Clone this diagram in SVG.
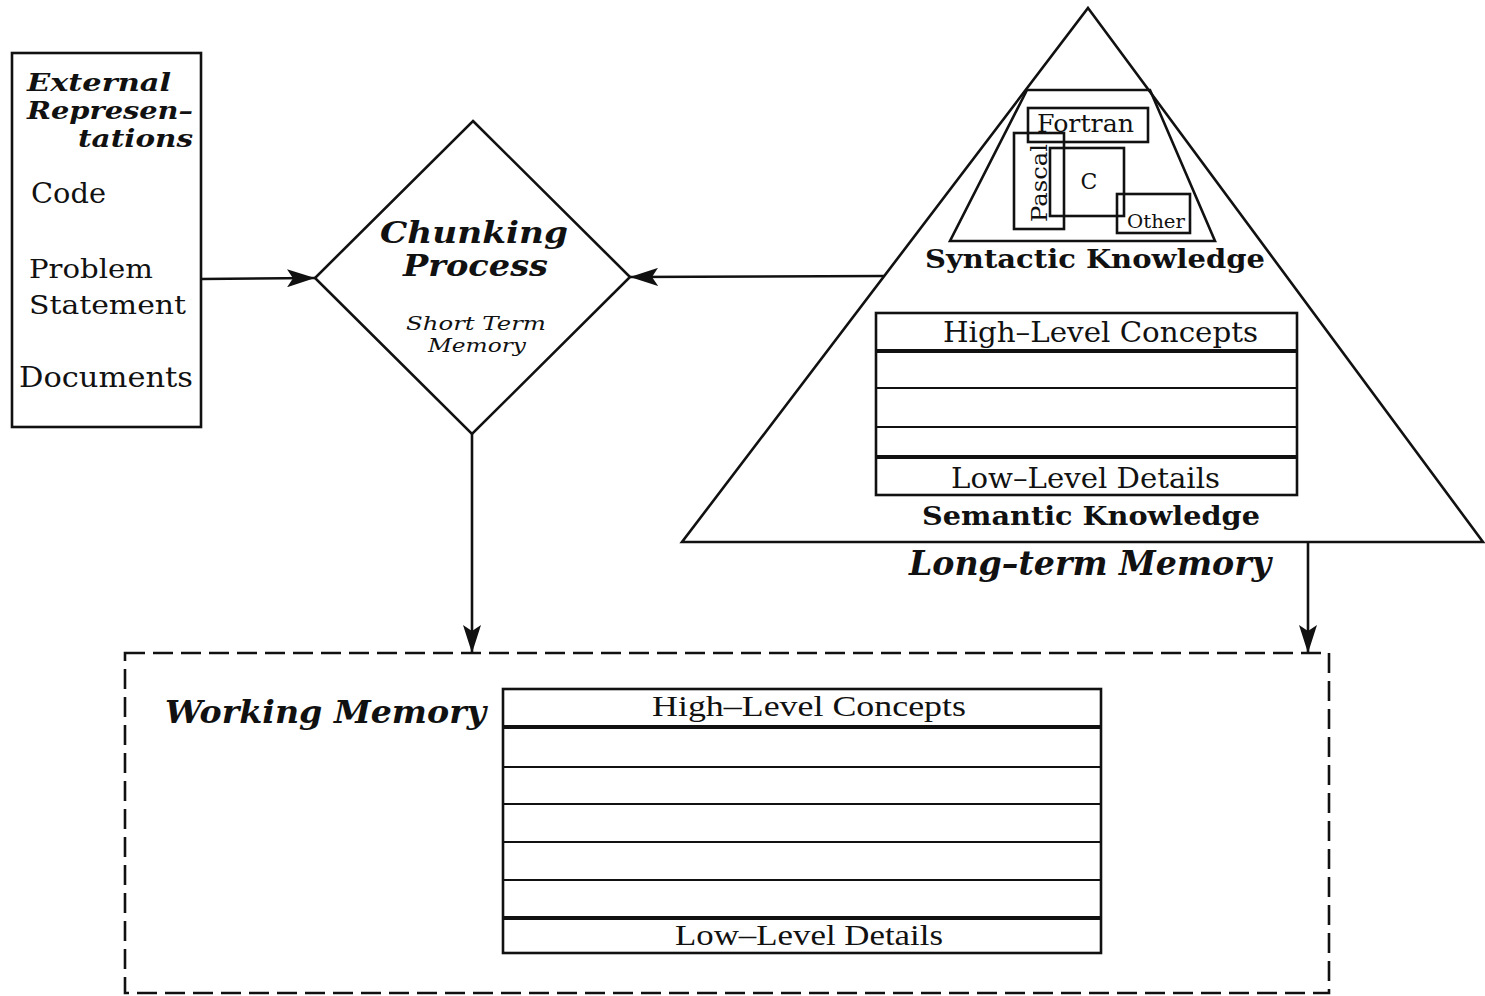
<svg xmlns="http://www.w3.org/2000/svg" width="1485" height="996" viewBox="0 0 1485 996">
  <style>
    .ln { fill: none; stroke: #111; stroke-width: 2.6; }
    .thin { fill: none; stroke: #111; stroke-width: 2; }
    .thick { fill: none; stroke: #111; stroke-width: 4; }
    .dash { fill: none; stroke: #111; stroke-width: 2.6; stroke-dasharray: 20 8; }
    .bi { font-family: "DejaVu Serif", serif; font-weight: bold; font-style: italic; fill: #111; }
    .b { font-family: "DejaVu Serif", serif; font-weight: bold; fill: #111; }
    .r { font-family: "Liberation Serif", serif; fill: #111; }
    .rd { font-family: "DejaVu Serif", serif; fill: #111; }
    .it { font-family: "DejaVu Serif", serif; font-style: italic; fill: #111; }
  </style>
  <defs>
    <marker id="head" viewBox="0 0 28 18" refX="28" refY="9" markerWidth="28" markerHeight="18" markerUnits="userSpaceOnUse" orient="auto">
      <path d="M0,0 L28,9 L0,18 L6,9 Z" fill="#111"/>
    </marker>
  </defs>
  <rect width="1485" height="996" fill="#fff"/>

  <!-- external representations -->
  <g id="external">
    <rect x="12" y="53" width="189" height="374" class="ln"/>
    <text class="bi" x="27" y="91" font-size="24" textLength="144" lengthAdjust="spacingAndGlyphs">External</text>
    <text class="bi" x="27" y="119" font-size="24" textLength="166" lengthAdjust="spacingAndGlyphs">Represen–</text>
    <text class="bi" x="78" y="147" font-size="24" textLength="115" lengthAdjust="spacingAndGlyphs">tations</text>
    <text class="rd" x="31" y="203" font-size="27" textLength="75" lengthAdjust="spacingAndGlyphs">Code</text>
    <text class="rd" x="29" y="278" font-size="26" textLength="124" lengthAdjust="spacingAndGlyphs">Problem</text>
    <text class="rd" x="29" y="314" font-size="26" textLength="157" lengthAdjust="spacingAndGlyphs">Statement</text>
    <text class="rd" x="19" y="387" font-size="27" textLength="174" lengthAdjust="spacingAndGlyphs">Documents</text>
  </g>

  <!-- chunking process -->
  <g id="chunking">
    <polygon points="473,121 630,277 472,434 315,278" class="ln"/>
    <text class="bi" x="380" y="243" font-size="29" textLength="188" lengthAdjust="spacingAndGlyphs">Chunking</text>
    <text class="bi" x="403" y="276" font-size="29" textLength="145" lengthAdjust="spacingAndGlyphs">Process</text>
    <text class="it" x="406" y="330" font-size="19" textLength="140" lengthAdjust="spacingAndGlyphs">Short Term</text>
    <text class="it" x="428" y="352" font-size="19" textLength="98" lengthAdjust="spacingAndGlyphs">Memory</text>
  </g>

  <!-- long-term memory -->
  <g id="long-term">
    <polygon points="1088,8 1483,542 682,542" class="ln"/>
    <g id="syntactic">
      <polygon points="1027,90 1150,90 1215,241 950,241" class="ln"/>
      <rect x="1028" y="108" width="120" height="34" class="ln"/>
      <rect x="1014" y="133" width="50" height="96" class="ln"/>
      <rect x="1050" y="148" width="74" height="68" class="ln"/>
      <rect x="1117" y="194" width="73" height="39" class="ln"/>
      <text class="rd" x="1037" y="132" font-size="24" textLength="97" lengthAdjust="spacingAndGlyphs">Fortran</text>
      <text class="rd" transform="translate(1047,222) rotate(-90)" font-size="23" textLength="78" lengthAdjust="spacingAndGlyphs">Pascal</text>
      <text class="rd" x="1089" y="189" font-size="22" text-anchor="middle">C</text>
      <text class="rd" x="1127" y="228" font-size="19" textLength="58" lengthAdjust="spacingAndGlyphs">Other</text>
      <text class="b" x="925" y="268" font-size="26" textLength="340" lengthAdjust="spacingAndGlyphs">Syntactic Knowledge</text>
    </g>
    <g id="semantic">
      <rect x="876" y="313" width="421" height="182" class="ln"/>
      <line x1="876" y1="351" x2="1297" y2="351" class="thick"/>
      <line x1="876" y1="388" x2="1297" y2="388" class="thin"/>
      <line x1="876" y1="427" x2="1297" y2="427" class="thin"/>
      <line x1="876" y1="457" x2="1297" y2="457" class="thick"/>
      <text class="rd" x="943" y="342" font-size="28" textLength="315" lengthAdjust="spacingAndGlyphs">High–Level Concepts</text>
      <text class="rd" x="951" y="488" font-size="28" textLength="269" lengthAdjust="spacingAndGlyphs">Low–Level Details</text>
      <text class="b" x="922" y="525" font-size="26" textLength="338" lengthAdjust="spacingAndGlyphs">Semantic Knowledge</text>
    </g>
    <text class="bi" x="909" y="575" font-size="33" textLength="362" lengthAdjust="spacingAndGlyphs">Long–term Memory</text>
  </g>

  <!-- working memory -->
  <g id="working">
    <rect x="125" y="653" width="1204" height="340" class="dash"/>
    <text class="bi" x="165" y="723" font-size="32" textLength="321" lengthAdjust="spacingAndGlyphs">Working Memory</text>
    <rect x="503" y="689" width="598" height="264" class="ln"/>
    <line x1="503" y1="727" x2="1101" y2="727" class="thick"/>
    <line x1="503" y1="767" x2="1101" y2="767" class="thin"/>
    <line x1="503" y1="804" x2="1101" y2="804" class="thin"/>
    <line x1="503" y1="842" x2="1101" y2="842" class="thin"/>
    <line x1="503" y1="880" x2="1101" y2="880" class="thin"/>
    <line x1="503" y1="918" x2="1101" y2="918" class="thick"/>
    <text class="r" x="652" y="716" font-size="30" textLength="314" lengthAdjust="spacingAndGlyphs">High–Level Concepts</text>
    <text class="r" x="675" y="945" font-size="30" textLength="268" lengthAdjust="spacingAndGlyphs">Low–Level Details</text>
  </g>

  <!-- connectors -->
  <g id="connectors" class="ln">
    <line x1="201" y1="279" x2="315" y2="278" marker-end="url(#head)"/>
    <line x1="884" y1="276" x2="630" y2="277" marker-end="url(#head)"/>
    <line x1="472" y1="434" x2="472" y2="653" marker-end="url(#head)"/>
    <line x1="1308" y1="542" x2="1308" y2="653" marker-end="url(#head)"/>
  </g>
</svg>
